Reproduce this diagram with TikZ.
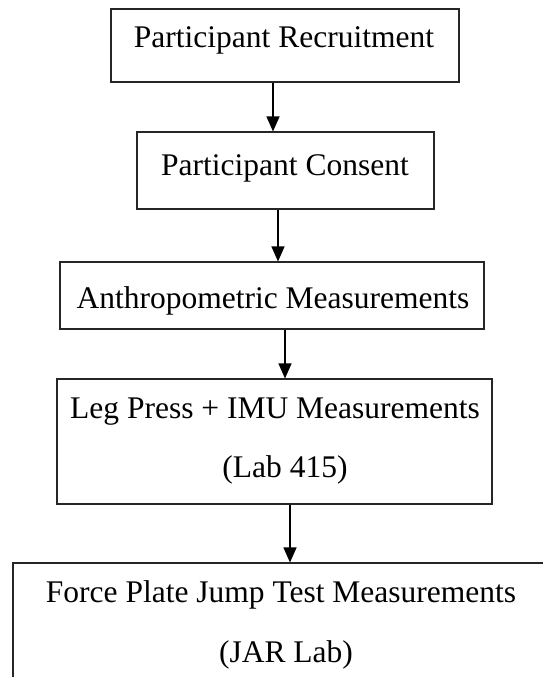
\documentclass[tikz,border=0pt]{standalone}
\usepackage{fontspec}
\setmainfont{Liberation Serif}
\usetikzlibrary{arrows.meta}
\begin{document}
\begin{tikzpicture}[x=1pt,y=-1pt,
  boxstyle/.style={draw=black!85, line width=1.1pt, inner sep=0pt},
  lbl/.style={anchor=base, inner sep=0pt, font=\fontsize{31.5}{38}\selectfont},
  arr/.style={draw=black, line width=1.1pt, -{Triangle[length=15pt,width=13pt]}}]
\useasboundingbox (0,0) rectangle (543,677);
\clip (0,0) rectangle (543,677);
% boxes
\node[boxstyle, minimum width=348pt, minimum height=73pt] (b1) at (285,45.5) {};
\node[boxstyle, minimum width=297pt, minimum height=77pt] (b2) at (285.5,170.5) {};
\node[boxstyle, minimum width=424pt, minimum height=67pt] (b3) at (272,295.5) {};
\node[boxstyle, minimum width=435pt, minimum height=125pt] (b4) at (274.5,441.5) {};
\node[boxstyle, minimum width=560pt, minimum height=160pt] (b5) at (293,643) {};
% texts
\node[lbl] (t1) at (284,48) {Participant Recruitment};
\node[lbl] (t2) at (285,175) {Participant Consent};
\node[lbl] (t3) at (273,308) {Anthropometric Measurements};
\node[lbl] (t4a) at (275,418) {Leg Press + IMU Measurements};
\node[lbl] (t4b) at (285,477) {(Lab 415)};
\node[lbl] (t5a) at (281,602) {Force Plate Jump Test Measurements};
\node[lbl] (t5b) at (286,662) {(JAR Lab)};
% arrow columns
\coordinate (c1) at (273,0);
\coordinate (c2) at (278,0);
\coordinate (c3) at (285,0);
\coordinate (c4) at (290,0);
\draw[arr] (b1.south -| c1) -- (b2.north -| c1);
\draw[arr] (b2.south -| c2) -- (b3.north -| c2);
\draw[arr] (b3.south -| c3) -- (b4.north -| c3);
\draw[arr] (b4.south -| c4) -- (b5.north -| c4);
\end{tikzpicture}
\end{document}
